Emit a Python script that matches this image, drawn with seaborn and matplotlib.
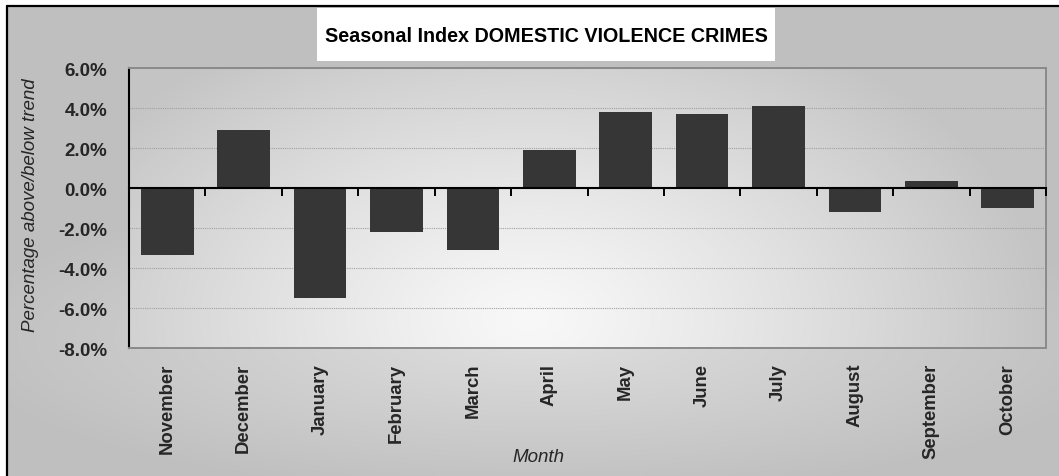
import numpy as np
import pandas as pd
import matplotlib
matplotlib.use("Agg")
import matplotlib.pyplot as plt
from matplotlib import font_manager
from matplotlib.patches import Rectangle
from matplotlib.lines import Line2D
from matplotlib.ticker import FuncFormatter, FixedLocator
import seaborn as sns

# Seasonal index, percentage above/below trend
months = ["November", "December", "January", "February", "March", "April",
          "May", "June", "July", "August", "September", "October"]
seasonal_index = [-3.33, 2.90, -5.52, -2.18, -3.08, 1.92,
                  3.82, 3.70, 4.10, -1.20, 0.35, -1.00]
y_ticks = [-8, -6, -4, -2, 0, 2, 4, 6]

title = "Seasonal Index DOMESTIC VIOLENCE CRIMES"
x_title = "Month"
y_title = "Percentage above/below trend"

sns.set_style("white")
available = {f.name for f in font_manager.fontManager.ttflist}
narrow = "Liberation Sans Narrow" in available
plt.rcParams["font.family"] = ["Liberation Sans", "DejaVu Sans"]
title_family = ["Liberation Sans Narrow", "Liberation Sans"] if narrow else ["Liberation Sans"]
title_size = 17.0 if narrow else 14.2
axis_title_size = 16.2 if narrow else 13.5

W, H = 1059, 477
fig = plt.figure(figsize=(W / 100, H / 100), dpi=100)
fig.patch.set_facecolor("white")
fig.patch.set_edgecolor("white")

# plot-area box in pixels
L, R, T, B = 129, 1046, 69, 349

# background: grey chart area with soft radial shading, lighter plot area
bg_ax = fig.add_axes([0, 0, 1, 1], zorder=-5)
yy, xx = np.mgrid[0:H, 0:W] + 0.5
d_out = np.hypot((xx - 540) / 600, (yy - 340) / 160)
shade = 222 - 31 * np.clip(d_out, 0, 1)
d_in = np.hypot((xx - 530) / 520, (yy - 320) / 330)
inner = 248 - 52 * np.clip(d_in, 0, 1) ** 1.2
plot_mask = (xx >= L) & (xx <= R) & (yy >= T) & (yy <= B)
shade[plot_mask] = inner[plot_mask]
shade[(xx < 7) | (yy < 7)] = 255
rgb = np.repeat((shade / 255.0)[:, :, None], 3, axis=2)
bg_ax.imshow(rgb, extent=(0, W, H, 0), aspect="auto", interpolation="nearest")
bg_ax.set_xlim(0, W)
bg_ax.set_ylim(H, 0)
bg_ax.axis("off")
# chart frame: only its top and left edges fall inside the image
bg_ax.add_line(Line2D([7, 7], [7, H], color="black", lw=1.6))
bg_ax.add_line(Line2D([7, W], [7, 7], color="black", lw=1.6))
bg_ax.add_patch(Rectangle((317, 8.5), 458, 53.5, facecolor="white", edgecolor="none"))
bg_ax.text(546, 42, title, ha="center", va="baseline", fontsize=title_size,
           fontweight="bold", family=title_family, color="black")

ax = fig.add_axes([L / W, 1 - B / H, (R - L) / W, (B - T) / H])
ax.set_facecolor("none")

df = pd.DataFrame({"Month": months, "Index": seasonal_index})
sns.barplot(data=df, x="Month", y="Index", order=months, color="#363636",
            saturation=1, width=0.69, ax=ax, zorder=2,
            edgecolor="none", linewidth=0)

ax.set_xlim(-0.5, len(months) - 0.5)
ax.set_ylim(y_ticks[0], y_ticks[-1])
ax.yaxis.set_major_locator(FixedLocator(y_ticks))
ax.yaxis.set_major_formatter(FuncFormatter(lambda v, _: f"{v:.1f}%"))
ax.grid(axis="y", color="#a0a0a0", lw=0.8, linestyle=(0, (1, 1)))
ax.grid(axis="x", visible=False)
ax.set_axisbelow(True)

for side in ("top", "right", "bottom"):
    ax.spines[side].set_color("#8a8a8a")
    ax.spines[side].set_linewidth(1.4)
ax.spines["left"].set_color("black")
ax.spines["left"].set_linewidth(1.5)

ax.tick_params(axis="y", direction="out", length=6.5, width=1.4, color="black",
               pad=9, labelsize=13.5)
ax.tick_params(axis="x", length=0, pad=10.8, labelsize=13.3)
for lab in ax.get_yticklabels():
    lab.set_fontweight("bold")
for lab in ax.get_xticklabels():
    lab.set_fontweight("bold")
    lab.set_rotation(90)

ax.set_ylabel(y_title, fontsize=axis_title_size, style="italic",
              family=title_family, va="center", ha="center")
ax.yaxis.set_label_coords((31 - L) / (R - L), (B - 205) / (B - T))
ax.set_xlabel(x_title, fontsize=axis_title_size, style="italic",
              family=title_family, va="baseline", ha="center")
ax.xaxis.set_label_coords((538 - L) / (R - L), (B - 462) / (B - T))

# zero line with category-boundary tick marks
zero_pos = (0 - y_ticks[0]) / (y_ticks[-1] - y_ticks[0])
zero_axis = ax.secondary_xaxis(zero_pos)
zero_axis.set_alignment("bottom")
zero_axis.set_zorder(5)
zero_axis.set_xticks(np.arange(len(months) + 1) - 0.5)
zero_axis.set_xticklabels([])
zero_axis.tick_params(direction="out", length=6, width=1.4, color="black")
zero_axis.spines["bottom"].set_color("black")
zero_axis.spines["bottom"].set_linewidth(1.5)

fig.savefig("out.png", dpi=100)
